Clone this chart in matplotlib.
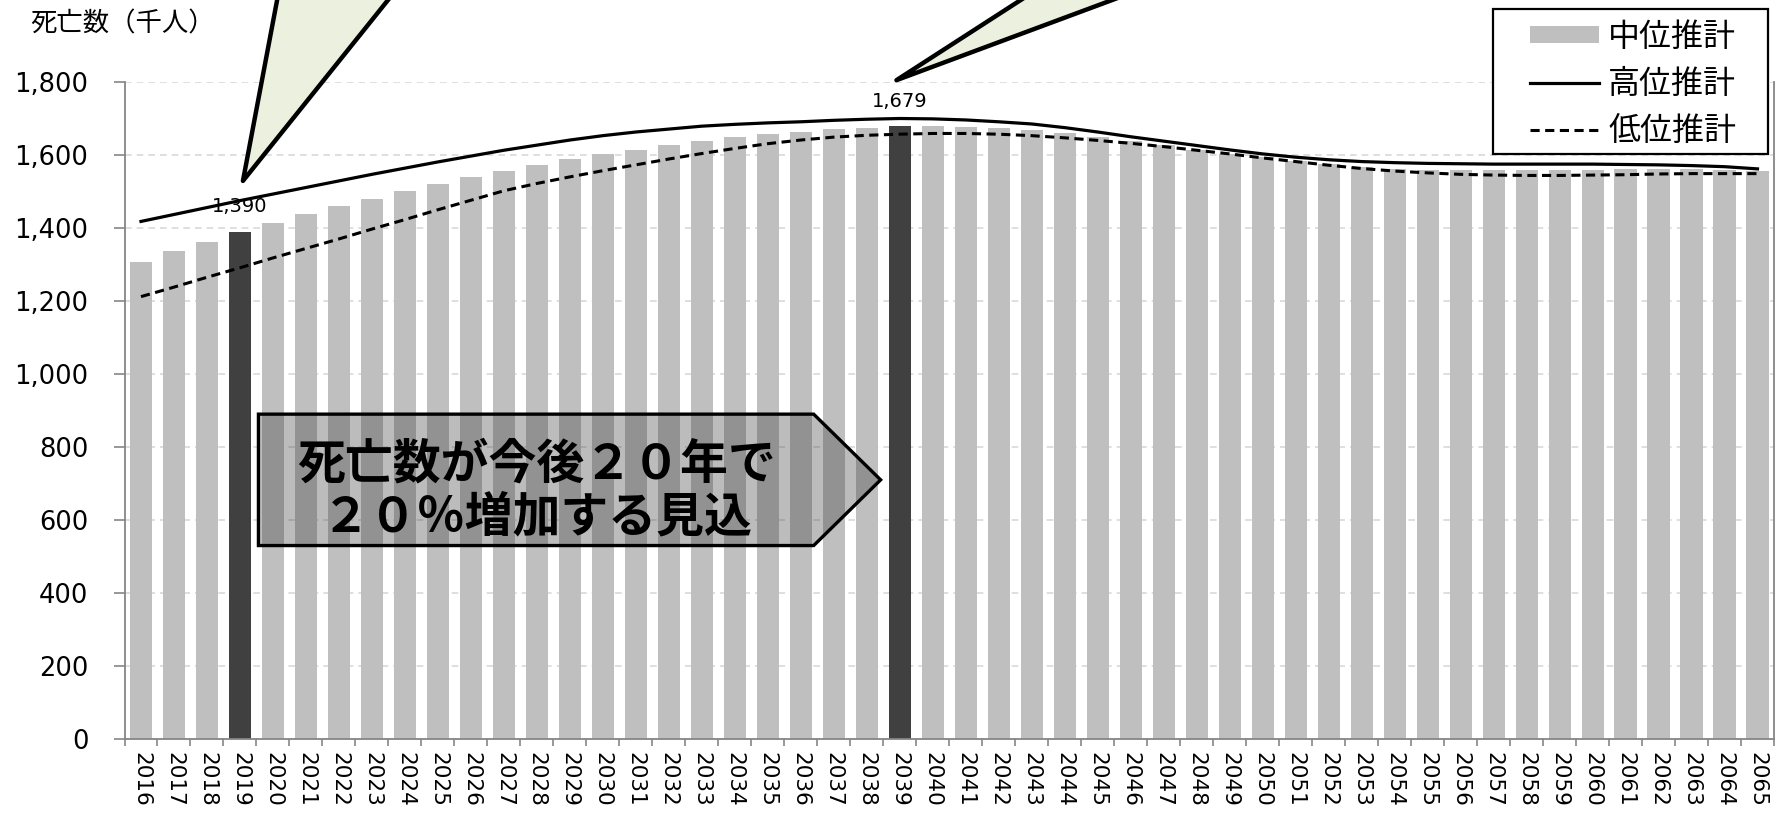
import matplotlib.pyplot as plt
import matplotlib.patches as mpatches
from matplotlib.font_manager import FontProperties
from matplotlib.ticker import FuncFormatter
import numpy as np

# 年次ごとの死亡数(千人)
years = list(range(2016, 2066))
mid = [1308, 1337, 1363, 1390, 1414, 1437, 1460, 1480, 1501, 1520,
       1539, 1556, 1572, 1588, 1603, 1615, 1627, 1639, 1649, 1658,
       1664, 1670, 1674, 1679, 1679, 1678, 1675, 1668, 1661, 1650,
       1639, 1627, 1615, 1604, 1595, 1584, 1575, 1567, 1561, 1559,
       1558, 1558, 1558, 1559, 1560, 1561, 1562, 1561, 1560, 1557]
high = [1418, 1437, 1456, 1475, 1493, 1511, 1529, 1547, 1564, 1581,
        1597, 1613, 1627, 1641, 1653, 1663, 1671, 1679, 1684, 1688,
        1691, 1695, 1698, 1700, 1699, 1696, 1691, 1685, 1675, 1663,
        1650, 1638, 1626, 1614, 1603, 1594, 1587, 1582, 1579, 1577,
        1576, 1575, 1575, 1575, 1575, 1574, 1573, 1571, 1568, 1562]
low = [1212, 1238, 1265, 1291, 1318, 1344, 1370, 1397, 1423, 1450,
       1476, 1502, 1522, 1540, 1557, 1573, 1589, 1604, 1618, 1631,
       1641, 1649, 1654, 1657, 1659, 1659, 1657, 1653, 1647, 1640,
       1632, 1623, 1613, 1603, 1592, 1582, 1572, 1563, 1556, 1551,
       1547, 1545, 1544, 1544, 1545, 1546, 1548, 1549, 1549, 1549]
highlight = [2019, 2039]
series_names = ['中位推計', '高位推計', '低位推計']

JP = ['Noto Sans CJK JP', 'DejaVu Sans']
plt.rcParams['font.family'] = ['DejaVu Sans']

W, H = 1778, 815
fig = plt.figure(figsize=(W / 100, H / 100), dpi=100)
ax = fig.add_axes([124.5 / W, 76 / H, (1774 - 124.5) / W, (739 - 82) / H])

x = np.arange(len(years))
colors = ['#404040' if y in highlight else '#BFBFBF' for y in years]
bars = ax.bar(x, mid, width=0.67, color=colors, zorder=2)
hl, = ax.plot(x, high, color='black', lw=2.3, zorder=3)
ll, = ax.plot(x, low, color='black', lw=2.2, ls=(0, (3, 1.8)), zorder=3)

for y in highlight:
    i = years.index(y)
    ax.annotate(f'{mid[i]:,}', (i, mid[i]), xytext=(0, 18),
                textcoords='offset points', ha='center', va='center',
                fontsize=14, zorder=4)

ax.set_xlim(-0.5, len(years) - 0.5)
ax.set_ylim(0, 1800)
ax.set_yticks(range(0, 1801, 200))
ax.yaxis.set_major_formatter(FuncFormatter(lambda v, p: f'{int(v):,}'))
ax.yaxis.grid(True, color='#D9D9D9', ls=(0, (4, 3)), lw=1.2)
ax.set_axisbelow(True)

ax.set_xticks(np.arange(-0.5, len(years)), labels=[])
ax.set_xticks(x, minor=True)
ax.set_xticklabels([str(y) for y in years], minor=True, rotation=-90, fontsize=15.5)
ax.tick_params(axis='x', which='major', length=5, color='#868686', width=1.2)
ax.tick_params(axis='x', which='minor', length=0, pad=9)
ax.tick_params(axis='y', length=8, color='#868686', width=1.2, pad=18, labelsize=18.5)

for s in ['left', 'bottom', 'right']:
    ax.spines[s].set_color('#868686')
    ax.spines[s].set_linewidth(1.3)
ax.spines['top'].set_visible(False)

fig.text(30 / W, 1 - 24 / H, '死亡数（千人）', family=JP, fontsize=19,
         ha='left', va='center')

# 吹き出しのしっぽ
i1 = years.index(2019)
i2 = years.index(2039)
tail_face = '#EBF1DE'
for pts in ([(i1 + 0.09, 1529), (i1 + 1.24, 2079), (i1 + 4.97, 2079)],
            [(i2 - 0.1, 1805), (i2 + 4.6, 2079), (i2 + 8.06, 2079)]):
    ax.add_patch(mpatches.Polygon(pts, closed=True, facecolor=tail_face,
                                  edgecolor='black', lw=3.2, joinstyle='round',
                                  clip_on=False, zorder=6))

# 矢印型の注記
arrow_pts = [(3.56, 890), (20.39, 890), (22.42, 710), (20.39, 530), (3.56, 530)]
ax.add_patch(mpatches.Polygon(arrow_pts, closed=True,
                              facecolor=(0.25, 0.25, 0.25, 0.35),
                              edgecolor='black', lw=2.4, zorder=5))
ax.text(12.0, 682, '死亡数が今後２０年で\n２０％増加する見込', ha='center',
        va='center', fontsize=34.5, weight='bold', family=JP, linespacing=1.1,
        zorder=6)

# 凡例
fig.patches.append(mpatches.Rectangle((1493 / W, 1 - 154 / H), 275 / W, 145 / H,
                                      transform=fig.transFigure, facecolor='white',
                                      edgecolor='black', lw=1.6, zorder=1))
fig.legend([bars, hl, ll], series_names, loc='upper left',
           bbox_to_anchor=(1530 / W, 1 - 21 / H), frameon=False,
           prop=FontProperties(family=JP, size=23), handlelength=2.15,
           handleheight=0.45, handletextpad=0.3, labelspacing=0.47,
           borderpad=0, borderaxespad=0)

fig.savefig('out.png', dpi=100)
